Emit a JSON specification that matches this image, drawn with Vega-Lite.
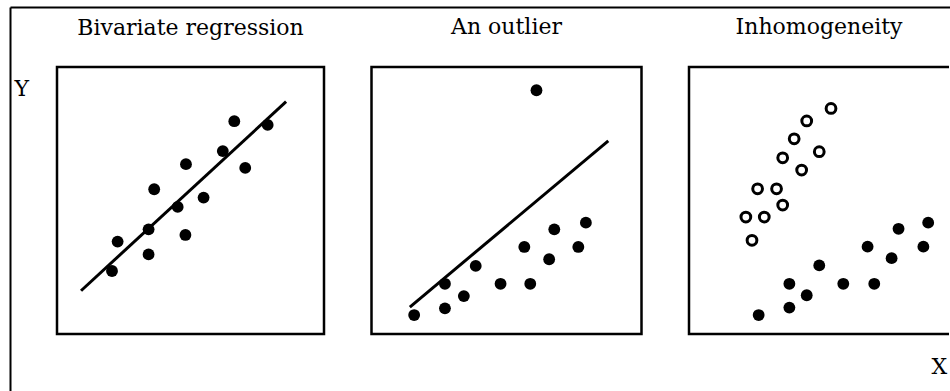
{
  "$schema": "https://vega.github.io/schema/vega-lite/v6.json",
  "background": "white",
  "padding": {"left": 8, "top": 5, "right": 0, "bottom": 0},
  "config": {
    "font": "DejaVu Serif",
    "view": {"stroke": "black", "strokeWidth": 2.5},
    "title": {"font": "DejaVu Serif", "fontSize": 22, "fontWeight": "normal", "color": "black", "baseline": "alphabetic", "frame": "group", "anchor": "middle"},
    "axis": {"titleFont": "DejaVu Serif", "titleFontSize": 22, "titleFontWeight": "normal", "titleColor": "black", "domain": false, "ticks": false, "labels": false, "grid": false}
  },
  "datasets": {
    "p1pts": [
      {"x": 20.6, "y": 23.6}, {"x": 22.7, "y": 34.6}, {"x": 34.3, "y": 39.2}, {"x": 34.3, "y": 29.8},
      {"x": 36.4, "y": 54.2}, {"x": 45.2, "y": 47.6}, {"x": 48.1, "y": 37.1}, {"x": 48.3, "y": 63.6},
      {"x": 54.9, "y": 51.1}, {"x": 62.1, "y": 68.5}, {"x": 66.4, "y": 79.7}, {"x": 70.5, "y": 62.2},
      {"x": 78.9, "y": 78.3}
    ],
    "p1line": [{"x": 9.0, "y": 16.2}, {"x": 85.8, "y": 87.0}],
    "p2pts": [
      {"x": 61.1, "y": 91.3}, {"x": 15.8, "y": 7.1}, {"x": 27.2, "y": 9.6}, {"x": 27.2, "y": 18.8},
      {"x": 34.2, "y": 14.2}, {"x": 38.6, "y": 25.5}, {"x": 47.8, "y": 18.8}, {"x": 58.8, "y": 18.8},
      {"x": 56.6, "y": 32.6}, {"x": 65.8, "y": 28.0}, {"x": 67.7, "y": 39.2}, {"x": 76.6, "y": 32.6},
      {"x": 79.4, "y": 41.7}
    ],
    "p2line": [{"x": 14.2, "y": 10.1}, {"x": 87.7, "y": 72.3}],
    "p3open": [
      {"x": 53.2, "y": 84.5}, {"x": 44.1, "y": 79.8}, {"x": 39.4, "y": 73.1}, {"x": 48.8, "y": 68.3},
      {"x": 35.1, "y": 66.0}, {"x": 42.2, "y": 61.4}, {"x": 25.7, "y": 54.4}, {"x": 32.8, "y": 54.4},
      {"x": 35.1, "y": 48.3}, {"x": 21.3, "y": 43.8}, {"x": 28.2, "y": 43.8}, {"x": 23.6, "y": 35.1}
    ],
    "p3filled": [
      {"x": 26.1, "y": 7.1}, {"x": 37.6, "y": 9.9}, {"x": 37.6, "y": 18.8}, {"x": 44.1, "y": 14.5},
      {"x": 48.8, "y": 25.7}, {"x": 57.8, "y": 18.8}, {"x": 69.4, "y": 18.8}, {"x": 66.9, "y": 32.7},
      {"x": 75.9, "y": 28.4}, {"x": 78.5, "y": 39.4}, {"x": 87.8, "y": 32.7}, {"x": 89.6, "y": 41.7}
    ]
  },
  "spacing": 47.5,
  "bounds": "flush",
  "hconcat": [
    {
      "width": 267,
      "height": 267,
      "title": {"text": "Bivariate regression", "offset": -33},
      "layer": [
        {
          "data": {"values": []},
          "mark": {"type": "point"},
          "encoding": {
            "x": {"field": "fx", "type": "quantitative", "scale": {"domain": [0, 1], "nice": false, "range": [-47, 893]},
                  "axis": {"orient": "top", "offset": 60, "domain": true, "domainColor": "black", "domainWidth": 2, "title": null}},
            "y": {"field": "fy", "type": "quantitative", "scale": {"domain": [0, 1], "nice": false, "range": [324, -60]},
                  "axis": {"orient": "left", "offset": 47, "domain": true, "domainColor": "black", "domainWidth": 2,
                           "title": "Y", "titleAngle": 0, "titleAlign": "left", "titleBaseline": "alphabetic", "titleX": 4, "titleY": 28}}
          }
        },
        {
          "layer": [
            {
              "data": {"name": "p1line"},
              "mark": {"type": "line", "color": "black", "strokeWidth": 3},
              "encoding": {
                "x": {"field": "x", "type": "quantitative", "scale": {"domain": [0, 100], "nice": false}, "axis": null},
                "y": {"field": "y", "type": "quantitative", "scale": {"domain": [0, 100], "nice": false}, "axis": null}
              }
            },
            {
              "data": {"name": "p1pts"},
              "mark": {"type": "circle", "color": "black", "opacity": 1, "size": 140},
              "encoding": {
                "x": {"field": "x", "type": "quantitative"},
                "y": {"field": "y", "type": "quantitative"}
              }
            }
          ]
        }
      ],
      "resolve": {"scale": {"x": "independent", "y": "independent"}, "axis": {"x": "independent", "y": "independent"}}
    },
    {
      "width": 270,
      "height": 267,
      "title": {"text": "An outlier", "offset": 28},
      "layer": [
        {
          "data": {"name": "p2line"},
          "mark": {"type": "line", "color": "black", "strokeWidth": 3},
          "encoding": {
            "x": {"field": "x", "type": "quantitative", "scale": {"domain": [0, 100], "nice": false}, "axis": null},
            "y": {"field": "y", "type": "quantitative", "scale": {"domain": [0, 100], "nice": false}, "axis": null}
          }
        },
        {
          "data": {"name": "p2pts"},
          "mark": {"type": "circle", "color": "black", "opacity": 1, "size": 140},
          "encoding": {
            "x": {"field": "x", "type": "quantitative"},
            "y": {"field": "y", "type": "quantitative"}
          }
        }
      ]
    },
    {
      "width": 260,
      "height": 267,
      "title": {"text": "Inhomogeneity", "offset": 28},
      "view": {"strokeDash": [260, 267, 527]},
      "layer": [
        {
          "data": {"name": "p3open"},
          "mark": {"type": "point", "shape": "circle", "filled": false, "color": "black", "opacity": 1, "strokeWidth": 3, "size": 95},
          "encoding": {
            "x": {"field": "x", "type": "quantitative", "scale": {"domain": [0, 97.4], "nice": false},
                  "axis": {"title": "X", "titleAngle": 0, "titleAlign": "left", "titleBaseline": "alphabetic", "titleX": 242, "titleY": 39}},
            "y": {"field": "y", "type": "quantitative", "scale": {"domain": [0, 100], "nice": false}, "axis": null}
          }
        },
        {
          "data": {"name": "p3filled"},
          "mark": {"type": "circle", "color": "black", "opacity": 1, "size": 140},
          "encoding": {
            "x": {"field": "x", "type": "quantitative"},
            "y": {"field": "y", "type": "quantitative"}
          }
        }
      ]
    }
  ]
}
